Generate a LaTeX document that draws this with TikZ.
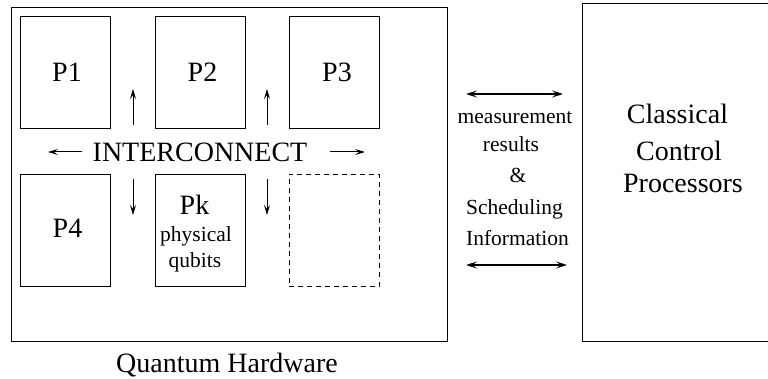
\documentclass[tikz,border=0pt]{standalone}
\usepackage{fontspec}
\setmainfont{Liberation Serif}
\usetikzlibrary{arrows.meta}
\newcommand{\bigsize}{\fontsize{28}{32}\selectfont}
\newcommand{\smallsize}{\fontsize{21.5}{26}\selectfont}
\tikzset{
  frame/.style={draw, line width=1pt, inner sep=0pt},
  proc/.style={frame, minimum width=90pt, minimum height=112pt},
  spare/.style={proc, dashed, dash pattern=on 5pt off 4pt},
  big/.style={font=\bigsize, inner sep=0pt, anchor=base},
  small/.style={font=\smallsize, inner sep=0pt, anchor=base},
  link/.style={line width=1pt, -{Stealth[length=10pt,width=6pt,inset=4pt]}},
  dlink/.style={line width=1.2pt, {Stealth[length=11pt,width=7pt,inset=4.5pt]}-{Stealth[length=11pt,width=7pt,inset=4.5pt]}}
}
\begin{document}
\begin{tikzpicture}[x=1pt,y=-1pt]
  \useasboundingbox (0,0) rectangle (768,379);
  \clip (0,0) rectangle (768,379);

  % enclosing boxes
  \node[frame, minimum width=436pt, minimum height=333pt] (qh) at (229,174.5) {};
  \node[frame, minimum width=200pt, minimum height=337pt] (cc) at (682,172.5) {};

  % processor tiles
  \node[proc] (p1) at (65,73) {};
  \node[proc] (p2) at (200,73) {};
  \node[proc] (p3) at (334,73) {};
  \node[proc] (p4) at (65,230.5) {};
  \node[proc] (pk) at (200,230.5) {};
  \node[spare] (pn) at (334,230.5) {};

  \node[big] (t1) at (67,82) {P1};
  \node[big] (t2) at (202.5,82) {P2};
  \node[big] (t3) at (337,82) {P3};
  \node[big] (t4) at (67.5,238) {P4};
  \node[big] (tk) at (194.5,215) {Pk};
  \node[small] (tkphys) at (196,242) {physical};
  \node[small] (tkqub) at (195,268) {qubits};

  % interconnect fabric
  \node[big] (ic) at (200,162) {INTERCONNECT};
  \coordinate (u1a) at (133,125); \coordinate (u1b) at (133,89);
  \coordinate (u2a) at (267,125); \coordinate (u2b) at (267,89);
  \coordinate (d1a) at (133,179); \coordinate (d1b) at (133,215);
  \coordinate (d2a) at (267,179); \coordinate (d2b) at (267,215);
  \coordinate (la) at (82,152);  \coordinate (lb) at (48,152);
  \coordinate (ra) at (330,152); \coordinate (rb) at (365,152);
  \draw[link] (u1a) -- (u1b);
  \draw[link] (u2a) -- (u2b);
  \draw[link] (d1a) -- (d1b);
  \draw[link] (d2a) -- (d2b);
  \draw[link] (la) -- (lb);
  \draw[link] (ra) -- (rb);

  \node[big] (qhlabel) at (227,372) {Quantum Hardware};

  % classical side
  \node[big] (c1) at (677.5,124) {Classical};
  \node[big] (c2) at (679,161) {Control};
  \node[big] (c3) at (683,193) {Processors};

  % exchanged data
  \coordinate (ta) at (466,94);  \coordinate (tb) at (563,94);
  \coordinate (ba) at (466,265); \coordinate (bb) at (567,265);
  \draw[dlink] (ta) -- (tb);
  \draw[dlink] (ba) -- (bb);
  \node[small] (m1) at (515,124) {measurement};
  \node[small] (m2) at (511,152) {results};
  \node[small] (m3) at (518,183) {\&};
  \node[small] (m4) at (514.5,215) {Scheduling};
  \node[small] (m5) at (517.5,246) {Information};
\end{tikzpicture}
\end{document}
